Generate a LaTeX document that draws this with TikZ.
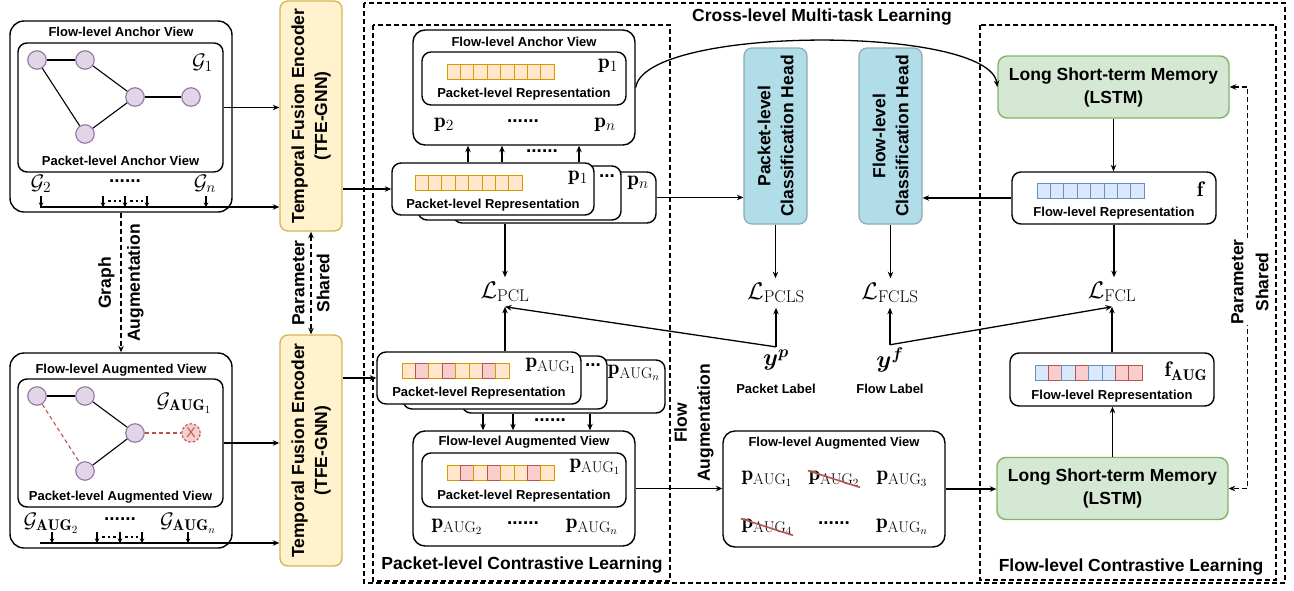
\RequirePackage{fix-cm}
\documentclass[tikz,border=0pt]{standalone}
\usepackage{amsmath,amssymb}
\usepackage{fontspec}
\setsansfont{Liberation Sans}
\usepackage{tikz}
\usetikzlibrary{arrows.meta}

\definecolor{encfill}{HTML}{FFF2CC}
\definecolor{encdraw}{HTML}{D6B656}
\definecolor{lstmfill}{HTML}{D5E8D4}
\definecolor{lstmdraw}{HTML}{82B366}
\definecolor{headfill}{HTML}{B1DDE9}
\definecolor{headdraw}{HTML}{8AAAB5}
\definecolor{nodefill}{HTML}{E1D5E7}
\definecolor{nodedraw}{HTML}{9673A6}
\definecolor{ofill}{HTML}{FFE6CC}
\definecolor{odraw}{HTML}{D79B00}
\definecolor{rfill}{HTML}{F8CECC}
\definecolor{rdraw}{HTML}{B85450}
\definecolor{bfill}{HTML}{DAE8FC}
\definecolor{bdraw}{HTML}{6C8EBF}

\DeclareMathSizes{21}{21}{15.5}{11}
\DeclareMathSizes{24}{24}{17}{12.5}
\newcommand{\lblfnt}{\sffamily\bfseries\fontsize{13}{15}\selectfont}
\newcommand{\ttlfnt}{\sffamily\bfseries\fontsize{17.5}{23}\selectfont}
\newcommand{\dotfnt}{\sffamily\bfseries\fontsize{19}{21}\selectfont}
\newcommand{\mthfnt}{\fontsize{21}{25}\selectfont}
\newcommand{\lossfnt}{\fontsize{24}{28}\selectfont}

% a row of eight vector cells: name, left x, centre y, colour letters
\newcommand{\cellrow}[4]{%
  \foreach \cl [count=\i from 0] in {#4}
    \node[cell, draw=\cl draw, fill=\cl fill] (#1-\i) at ({#2+6.7+13.4*\i}, #3) {};%
}

\begin{document}
\begin{tikzpicture}[x=1pt, y=-1pt, line width=1.3pt, >={Stealth[length=6.5pt, width=5.5pt]}]

\tikzstyle{panel} = [draw, rounded corners=14pt, inner sep=0pt, line width=1.4pt]
\tikzstyle{inbox} = [draw, fill=white, rounded corners=9pt, inner sep=0pt, line width=1.4pt]
\tikzstyle{enc} = [draw=encdraw, fill=encfill, rounded corners=8pt, line width=1.4pt, minimum width=62, inner sep=0pt]
\tikzstyle{lstm} = [draw=lstmdraw, fill=lstmfill, rounded corners=9pt, line width=1.4pt, minimum width=231, minimum height=62, align=center, font=\ttlfnt]
\tikzstyle{head} = [draw=headdraw, fill=headfill, rounded corners=8pt, line width=1.2pt, minimum width=63, minimum height=176, inner sep=0pt]
\tikzstyle{gn} = [circle, draw=nodedraw, fill=nodefill, minimum size=18.5, inner sep=0pt, line width=1.1pt]
\tikzstyle{cell} = [minimum width=13.4, minimum height=15, inner sep=0pt, line width=1pt]
\tikzstyle{lbl} = [font=\lblfnt, inner sep=0pt]
\tikzstyle{ttl} = [font=\ttlfnt, inner sep=0pt, align=center]
\tikzstyle{mth} = [font=\mthfnt, inner sep=0pt]
\tikzstyle{loss} = [font=\lossfnt, inner sep=4pt]
\tikzstyle{dotsl} = [font=\dotfnt, inner sep=0pt]
\tikzstyle{dbox} = [draw, dash pattern=on 5pt off 3pt, line width=1.2pt]
\tikzstyle{dline} = [dash pattern=on 5pt off 3pt]
\tikzstyle{tiny} = [-{Stealth[length=4.5pt, width=4.5pt]}, line width=1.1pt]

\useasboundingbox (0,0) rectangle (1294,590);

% dashed frames
\draw[dbox] (364,3) rectangle (1285,583);
\draw[dbox] (373,25) rectangle (670,581);
\draw[dbox] (980,25) rectangle (1276,580);
\node[ttl] (cml) at (822,17) {Cross-level Multi-task Learning};
\node[ttl] (pcl) at (522,565) {Packet-level Contrastive Learning};
\node[ttl] (fcl) at (1131,567) {Flow-level Contrastive Learning};

% flow-level anchor view of graphs
\node[panel, minimum width=222, minimum height=191] (fav) at (121,116.5) {};
\node[lbl] (favt) at (121,32) {Flow-level Anchor View};
\node[inbox, minimum width=205, minimum height=129] (pav) at (120.5,107.5) {};
\node[lbl] (pavt) at (120.5,161) {Packet-level Anchor View};
\foreach \n/\x/\y in {1/37/60, 2/85/60, 3/135/97, 4/191/97, 5/85/134}
    \node[gn] (a\n) at (\x,\y) {};
\foreach \s/\t in {1/2, 1/5, 2/3, 3/4, 3/5}
    \draw[line width=1.1pt] (a\s) -- (a\t);
\node[mth] (G1) at (202.5,63) {$\mathcal{G}_1$};
\node[mth] (G2) at (41,184) {$\mathcal{G}_2$};
\node[dotsl] (Gd) at (125,181) {......};
\node[mth] (Gn) at (205,184) {$\mathcal{G}_n$};

% bus into the first encoder
\coordinate (bus1) at (40,207);
\foreach \x [count=\i] in {41,103,125,147,206}
    \coordinate (t\i) at (\x,196);
\foreach \i in {1,...,5}
    \draw[tiny] (t\i) -- (t\i |- bus1);
\draw[line width=2pt, dash pattern=on 2.5pt off 3pt] ([shift={(5,5)}]t2) -- ([shift={(-4,5)}]t3);
\draw[line width=2pt, dash pattern=on 2.5pt off 3pt] ([shift={(5,5)}]t3) -- ([shift={(-4,5)}]t4);

% encoders
\node[enc, minimum height=230] (enc1) at (311,116) {};
\node[ttl, rotate=90] (enc1t) at (enc1) {Temporal Fusion Encoder\\(TFE-GNN)};
\node[enc, minimum height=231] (enc2) at (311,450.5) {};
\node[ttl, rotate=90] (enc2t) at (enc2) {Temporal Fusion Encoder\\(TFE-GNN)};
\draw[->] (bus1) -- (bus1 -| enc1.west);
\draw[->] (pav.east) -- (pav.east -| enc1.west);
\draw[<->, dline] (enc1.south) -- (enc2.south |- enc2.north);
\node[ttl, rotate=90] (ps1) at (311,283) {Parameter\\[2pt]Shared};

% graph augmentation
\node[panel, minimum width=222, minimum height=195] (fag) at (121,450.5) {};
\draw[->, dline] (fav.south) -- (fag.north);
\node[ttl, rotate=90] (gaug) at (121,283) {Graph\\[6pt]Augmentation};
\node[lbl] (fagt) at (121,370) {Flow-level Augmented View};
\node[inbox, minimum width=205, minimum height=128] (pag) at (120.5,443) {};
\node[lbl] (pagt) at (120.5,497) {Packet-level Augmented View};
\foreach \n/\x/\y in {1/37/396, 2/85/396, 3/135/433, 5/85/471}
    \node[gn] (b\n) at (\x,\y) {};
\node[gn, draw=rdraw, fill=rfill, dash pattern=on 2.5pt off 2pt, text=rdraw, font=\sffamily\fontsize{14}{14}\selectfont] (b4) at (191,433) {X};
\foreach \s/\t in {1/2, 2/3, 3/5}
    \draw[line width=1.1pt] (b\s) -- (b\t);
\foreach \s/\t in {1/5, 3/4}
    \draw[rdraw, line width=1.1pt, dash pattern=on 4pt off 3pt] (b\s) -- (b\t);
\node[mth] (GA1) at (184,403) {$\mathcal{G}_{\mathbf{AUG}_1}$};
\node[mth] (GA2) at (51,523) {$\mathcal{G}_{\mathbf{AUG}_2}$};
\node[dotsl] (GAd) at (120,519) {......};
\node[mth] (GAn) at (188,523) {$\mathcal{G}_{\mathbf{AUG}_n}$};

% bus into the second encoder
\coordinate (bus2) at (40,543);
\foreach \x [count=\i] in {52,97,120,142,188}
    \coordinate (s\i) at (\x,532);
\foreach \i in {1,...,5}
    \draw[tiny] (s\i) -- (s\i |- bus2);
\draw[line width=2pt, dash pattern=on 2.5pt off 3pt] ([shift={(5,5)}]s2) -- ([shift={(-4,5)}]s3);
\draw[line width=2pt, dash pattern=on 2.5pt off 3pt] ([shift={(5,5)}]s3) -- ([shift={(-4,5)}]s4);
\draw[->] (bus2) -- (bus2 -| enc2.west);
\draw[->] (pag.east) -- (pag.east -| enc2.west);

% flow-level anchor view of packets
\node[panel, rounded corners=12pt, minimum width=222, minimum height=115] (afv) at (524,87.5) {};
\node[lbl] (afvt) at (524,42) {Flow-level Anchor View};
\node[inbox, minimum width=204, minimum height=53] (apr) at (524,78.5) {};
\cellrow{ac}{447}{71.5}{o,o,o,o,o,o,o,o}
\node[mth] (ap1) at (608,66) {$\mathbf{p}_1$};
\node[lbl] (aprt) at (524,94) {Packet-level Representation};
\node[mth] (ap2) at (444,125) {$\mathbf{p}_2$};
\node[dotsl] (apd) at (523,121) {......};
\node[mth] (apn) at (605,125) {$\mathbf{p}_n$};

% packet representations of the anchor
\node[inbox, minimum width=203, minimum height=51] (pk3) at (554.5,197.5) {};
\node[inbox, minimum width=203, minimum height=54] (pk2) at (519.5,193) {};
\node[inbox, minimum width=202, minimum height=52] (pk1) at (493,189) {};
\cellrow{kc}{415}{182.5}{o,o,o,o,o,o,o,o}
\node[mth] (kp1) at (578,178) {$\mathbf{p}_1$};
\node[lbl] (kpt) at (493,205) {Packet-level Representation};
\node[dotsl] (kpd) at (607,176) {...};
\node[mth] (kpn) at (638,183) {$\mathbf{p}_n$};
\foreach \d in {-25,9,86}
    \draw[->] ([xshift=\d pt]pk1.north) -- ([xshift=\d pt]pk1.north |- afv.south);
\node[dotsl] (kud) at (542,151) {......};
\draw[->] (enc1.east |- pk1.west) -- (pk1.west);

% packet representations of the augmentation
\node[inbox, minimum width=203, minimum height=53] (pa3) at (563.5,386.5) {};
\node[inbox, minimum width=204, minimum height=53] (pa2) at (505,382.5) {};
\node[inbox, minimum width=204, minimum height=52] (pa1) at (479,378) {};
\cellrow{uc}{402}{371}{o,r,o,r,o,o,r,o}
\node[mth] (up1) at (551,366) {$\mathbf{p}_{\mathrm{AUG}_1}$};
\node[lbl] (upt) at (479,393) {Packet-level Representation};
\node[dotsl] (upd) at (593,365) {...};
\node[mth] (upn) at (634,373) {$\mathbf{p}_{\mathrm{AUG}_n}$};
\draw[->] (enc2.east |- pa1.west) -- (pa1.west);

% flow-level augmented view of packets
\node[panel, rounded corners=12pt, minimum width=222, minimum height=115] (fvm) at (524,488.5) {};
\node[lbl] (fvmt) at (524,442) {Flow-level Augmented View};
\node[inbox, minimum width=204, minimum height=54] (pvm) at (524,480) {};
\cellrow{vc}{447}{473}{o,r,o,r,o,o,r,o}
\node[mth] (vp1) at (595,467) {$\mathbf{p}_{\mathrm{AUG}_1}$};
\node[lbl] (vpt) at (524,496) {Packet-level Representation};
\node[mth] (vp2) at (457,527) {$\mathbf{p}_{\mathrm{AUG}_2}$};
\node[dotsl] (vpd) at (523,523) {......};
\node[mth] (vpn) at (592,527) {$\mathbf{p}_{\mathrm{AUG}_n}$};
\foreach \d in {-80.5,-50.5,26.5}
    \draw[->] ([xshift=\d pt]pa3.south) -- ([xshift=\d pt]pa3.south |- fvm.north);
\node[dotsl] (uud) at (550,420) {......};

% packet-level loss
\node[loss] (Lpcl) at (505,292) {$\mathcal{L}_{\mathrm{PCL}}$};
\draw[->] (Lpcl.north |- pk3.south) -- (Lpcl.north);
\draw[->] (Lpcl.south |- pa1.north) -- (Lpcl.south);

% flow augmentation
\node[panel, rounded corners=12pt, minimum width=222, minimum height=116] (fvr) at (834,489) {};
\node[lbl] (fvrt) at (834,443) {Flow-level Augmented View};
\node[mth] (r1) at (767,479) {$\mathbf{p}_{\mathrm{AUG}_1}$};
\node[mth] (r2) at (834,479) {$\mathbf{p}_{\mathrm{AUG}_2}$};
\node[mth] (r3) at (902,479) {$\mathbf{p}_{\mathrm{AUG}_3}$};
\node[mth] (r4) at (767,527) {$\mathbf{p}_{\mathrm{AUG}_4}$};
\node[dotsl] (rd) at (834,523) {......};
\node[mth] (rn) at (902,527) {$\mathbf{p}_{\mathrm{AUG}_n}$};
\draw[rdraw, line width=1.6pt] (r2.north west) -- (r2.south east);
\draw[rdraw, line width=1.6pt] (r4.north west) -- (r4.south east);
\draw[->] (fvm.east) -- (fvm.east -| fvr.west);
\node[ttl, rotate=90] (faug) at (694,423) {Flow\\Augmentation};

% classification heads
\node[head] (ph) at (775.5,136) {};
\node[ttl, rotate=90] (pht) at (ph) {Packet-level\\Classification Head};
\node[head] (fh) at (890.5,136) {};
\node[ttl, rotate=90] (fht) at (fh) {Flow-level\\Classification Head};
\draw[->] (pk3.east) -- (pk3.east -| ph.west);
\node[loss] (Lpcls) at (776,293) {$\mathcal{L}_{\mathrm{PCLS}}$};
\node[loss] (Lfcls) at (890,293) {$\mathcal{L}_{\mathrm{FCLS}}$};
\draw[->] (ph.south) -- (ph.south |- Lpcls.north);
\draw[->] (fh.south) -- (fh.south |- Lfcls.north);
\node[loss, inner sep=2pt] (yp) at (776,360) {$\boldsymbol{y}^{\boldsymbol{p}}$};
\node[lbl] (ypt) at (776,389) {Packet Label};
\node[loss, inner sep=2pt] (yf) at (890,360) {$\boldsymbol{y}^{\boldsymbol{f}}$};
\node[lbl] (yft) at (890,389) {Flow Label};

% flow-level branch
\node[lstm] (lstm1) at (1113.5,87) {Long Short-term Memory\\(LSTM)};
\node[inbox, minimum width=204, minimum height=52] (fr) at (1114,198) {};
\cellrow{fc}{1037}{191}{b,b,b,b,b,b,b,b}
\node[mth] (f1) at (1200,189) {$\mathbf{f}$};
\node[lbl] (frt) at (1114,213) {Flow-level Representation};
\node[loss] (Lfcl) at (1112,292) {$\mathcal{L}_{\mathrm{FCL}}$};
\node[inbox, minimum width=204, minimum height=53] (fra) at (1112,379.5) {};
\cellrow{gc}{1035}{373}{b,r,b,r,b,b,r,r}
\node[mth] (fa) at (1186,371) {$\mathbf{f}_{\mathbf{AUG}}$};
\node[lbl] (frat) at (1112,396) {Flow-level Representation};
\node[lstm] (lstm2) at (1112.5,488.5) {Long Short-term Memory\\(LSTM)};
\draw[->] (lstm1.south) -- (lstm1.south |- fr.north);
\draw[->] (fr.south) -- (fr.south |- Lfcl.north);
\draw[->] (fra.north) -- (fra.north |- Lfcl.south);
\draw[->] (lstm2.north) -- (lstm2.north |- fra.south);
\draw[->] (fr.west) -- (fr.west -| fh.east);
\draw[->] (fvr.east) -- (fvr.east -| lstm2.west);
\draw[->] (afv.east) .. controls (645,25) and (990,25) .. (lstm1.west);
\draw[<->, dline] (lstm1.east) -- ++(18,0) |- (lstm2.east);
\node[ttl, rotate=90, fill=white] (ps2) at (1250,282) {Parameter\\[2pt]Shared};

% labels into the losses
\draw[->] (yp.north) -- (yp.north |- Lpcls.south);
\draw[->] (yp.north) -- (Lpcl.south);
\draw[->] (yf.north) -- (yf.north |- Lfcls.south);
\draw[->] (yf.north) -- (Lfcl.south);

\end{tikzpicture}
\end{document}
